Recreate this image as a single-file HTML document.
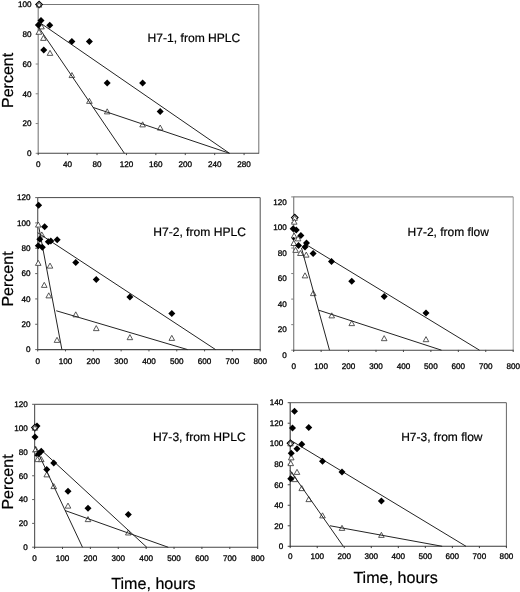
<!DOCTYPE html>
<html><head><meta charset="utf-8"><title>Figure</title>
<style>
html,body{margin:0;padding:0;background:#fff;}
body{width:520px;height:592px;overflow:hidden;font-family:"Liberation Sans",sans-serif;}
svg{display:block;will-change:transform;}
svg text{font-family:"Liberation Sans",sans-serif;text-rendering:geometricPrecision;}
</style></head>
<body>
<svg width="520" height="592" viewBox="0 0 520 592">
<rect width="520" height="592" fill="#fff"/>
<line x1="38.20" y1="4.50" x2="258.80" y2="4.50" stroke="#777" stroke-width="1.0"/>
<line x1="258.80" y1="4.50" x2="258.80" y2="153.30" stroke="#707070" stroke-width="1.0"/>
<line x1="38.20" y1="4.20" x2="38.20" y2="153.80" stroke="#858585" stroke-width="1.2"/>
<line x1="37.70" y1="153.30" x2="259.10" y2="153.30" stroke="#454545" stroke-width="1.1"/>
<line x1="35.70" y1="153.30" x2="38.20" y2="153.30" stroke="#858585" stroke-width="1.0"/>
<text x="31.50" y="156.05" font-size="8.15" text-anchor="end" fill="#000" stroke="#000" stroke-width="0.3" >0</text>
<line x1="35.70" y1="123.54" x2="38.20" y2="123.54" stroke="#858585" stroke-width="1.0"/>
<text x="31.50" y="126.29" font-size="8.15" text-anchor="end" fill="#000" stroke="#000" stroke-width="0.3" >20</text>
<line x1="35.70" y1="93.78" x2="38.20" y2="93.78" stroke="#858585" stroke-width="1.0"/>
<text x="31.50" y="96.53" font-size="8.15" text-anchor="end" fill="#000" stroke="#000" stroke-width="0.3" >40</text>
<line x1="35.70" y1="64.02" x2="38.20" y2="64.02" stroke="#858585" stroke-width="1.0"/>
<text x="31.50" y="66.77" font-size="8.15" text-anchor="end" fill="#000" stroke="#000" stroke-width="0.3" >60</text>
<line x1="35.70" y1="34.26" x2="38.20" y2="34.26" stroke="#858585" stroke-width="1.0"/>
<text x="31.50" y="37.01" font-size="8.15" text-anchor="end" fill="#000" stroke="#000" stroke-width="0.3" >80</text>
<line x1="35.70" y1="4.50" x2="38.20" y2="4.50" stroke="#858585" stroke-width="1.0"/>
<text x="31.50" y="7.25" font-size="8.15" text-anchor="end" fill="#000" stroke="#000" stroke-width="0.3" >100</text>
<line x1="38.20" y1="153.00" x2="38.20" y2="155.10" stroke="#454545" stroke-width="1.0"/>
<text x="38.20" y="167.05" font-size="8.15" text-anchor="middle" fill="#000" stroke="#000" stroke-width="0.3" >0</text>
<line x1="67.61" y1="153.00" x2="67.61" y2="155.10" stroke="#454545" stroke-width="1.0"/>
<text x="67.61" y="167.05" font-size="8.15" text-anchor="middle" fill="#000" stroke="#000" stroke-width="0.3" >40</text>
<line x1="97.03" y1="153.00" x2="97.03" y2="155.10" stroke="#454545" stroke-width="1.0"/>
<text x="97.03" y="167.05" font-size="8.15" text-anchor="middle" fill="#000" stroke="#000" stroke-width="0.3" >80</text>
<line x1="126.44" y1="153.00" x2="126.44" y2="155.10" stroke="#454545" stroke-width="1.0"/>
<text x="126.44" y="167.05" font-size="8.15" text-anchor="middle" fill="#000" stroke="#000" stroke-width="0.3" >120</text>
<line x1="155.85" y1="153.00" x2="155.85" y2="155.10" stroke="#454545" stroke-width="1.0"/>
<text x="155.85" y="167.05" font-size="8.15" text-anchor="middle" fill="#000" stroke="#000" stroke-width="0.3" >160</text>
<line x1="185.27" y1="153.00" x2="185.27" y2="155.10" stroke="#454545" stroke-width="1.0"/>
<text x="185.27" y="167.05" font-size="8.15" text-anchor="middle" fill="#000" stroke="#000" stroke-width="0.3" >200</text>
<line x1="214.68" y1="153.00" x2="214.68" y2="155.10" stroke="#454545" stroke-width="1.0"/>
<text x="214.68" y="167.05" font-size="8.15" text-anchor="middle" fill="#000" stroke="#000" stroke-width="0.3" >240</text>
<line x1="244.09" y1="153.00" x2="244.09" y2="155.10" stroke="#454545" stroke-width="1.0"/>
<text x="244.09" y="167.05" font-size="8.15" text-anchor="middle" fill="#000" stroke="#000" stroke-width="0.3" >280</text>
<path d="M38.70 28.88L41.50 23.84L44.30 28.88Z" fill="#fff" stroke="#3a3a3a" stroke-width="0.85"/>
<path d="M36.20 34.28L39.00 29.24L41.80 34.28Z" fill="#fff" stroke="#3a3a3a" stroke-width="0.85"/>
<path d="M40.60 40.38L43.40 35.34L46.20 40.38Z" fill="#fff" stroke="#3a3a3a" stroke-width="0.85"/>
<path d="M47.20 55.38L50.00 50.34L52.80 55.38Z" fill="#fff" stroke="#3a3a3a" stroke-width="0.85"/>
<path d="M69.10 77.58L71.90 72.54L74.70 77.58Z" fill="#fff" stroke="#3a3a3a" stroke-width="0.85"/>
<path d="M86.60 103.38L89.40 98.34L92.20 103.38Z" fill="#fff" stroke="#3a3a3a" stroke-width="0.85"/>
<path d="M104.40 113.88L107.20 108.84L110.00 113.88Z" fill="#fff" stroke="#3a3a3a" stroke-width="0.85"/>
<path d="M139.80 126.88L142.60 121.84L145.40 126.88Z" fill="#fff" stroke="#3a3a3a" stroke-width="0.85"/>
<path d="M157.40 130.08L160.20 125.04L163.00 130.08Z" fill="#fff" stroke="#3a3a3a" stroke-width="0.85"/>
<path d="M35.80 4.50L39.10 1.20L42.40 4.50L39.10 7.80Z" fill="#fff" stroke="#000" stroke-width="1.1"/>
<path d="M36.40 7.09L39.10 2.23L41.80 7.09Z" fill="none" stroke="#3a3a3a" stroke-width="0.85"/>
<line x1="38.60" y1="21.80" x2="229.50" y2="153.30" stroke="#242424" stroke-width="1.0"/>
<line x1="38.60" y1="27.20" x2="124.40" y2="153.30" stroke="#242424" stroke-width="1.0"/>
<line x1="93.00" y1="107.40" x2="229.50" y2="153.30" stroke="#242424" stroke-width="1.0"/>
<path d="M37.50 20.60L41.00 17.10L44.50 20.60L41.00 24.10Z" fill="#000" />
<path d="M34.90 25.00L38.40 21.50L41.90 25.00L38.40 28.50Z" fill="#000" />
<path d="M46.25 25.25L49.75 21.75L53.25 25.25L49.75 28.75Z" fill="#000" />
<path d="M40.25 50.00L43.75 46.50L47.25 50.00L43.75 53.50Z" fill="#000" />
<path d="M68.40 41.60L71.90 38.10L75.40 41.60L71.90 45.10Z" fill="#000" />
<path d="M85.90 41.60L89.40 38.10L92.90 41.60L89.40 45.10Z" fill="#000" />
<path d="M103.70 83.00L107.20 79.50L110.70 83.00L107.20 86.50Z" fill="#000" />
<path d="M139.10 83.00L142.60 79.50L146.10 83.00L142.60 86.50Z" fill="#000" />
<path d="M156.70 111.50L160.20 108.00L163.70 111.50L160.20 115.00Z" fill="#000" />
<text x="147.60" y="42.40" font-size="12.1" text-anchor="start" fill="#000" stroke="#000" stroke-width="0.2" >H7-1, from HPLC</text>
<text x="0.00" y="0.00" font-size="16" text-anchor="middle" fill="#000" stroke="#000" stroke-width="0.2" transform="translate(13.2,80.4) rotate(-90)">Percent</text>
<line x1="37.70" y1="197.60" x2="260.20" y2="197.60" stroke="#484848" stroke-width="1.0"/>
<line x1="260.20" y1="197.60" x2="260.20" y2="349.60" stroke="#505050" stroke-width="1.0"/>
<line x1="37.70" y1="197.30" x2="37.70" y2="350.10" stroke="#606060" stroke-width="1.2"/>
<line x1="37.20" y1="349.60" x2="260.50" y2="349.60" stroke="#4a4a4a" stroke-width="1.1"/>
<line x1="35.20" y1="349.60" x2="37.70" y2="349.60" stroke="#606060" stroke-width="1.0"/>
<text x="30.60" y="352.35" font-size="8.15" text-anchor="end" fill="#000" stroke="#000" stroke-width="0.3" >0</text>
<line x1="35.20" y1="324.27" x2="37.70" y2="324.27" stroke="#606060" stroke-width="1.0"/>
<text x="30.60" y="327.02" font-size="8.15" text-anchor="end" fill="#000" stroke="#000" stroke-width="0.3" >20</text>
<line x1="35.20" y1="298.93" x2="37.70" y2="298.93" stroke="#606060" stroke-width="1.0"/>
<text x="30.60" y="301.68" font-size="8.15" text-anchor="end" fill="#000" stroke="#000" stroke-width="0.3" >40</text>
<line x1="35.20" y1="273.60" x2="37.70" y2="273.60" stroke="#606060" stroke-width="1.0"/>
<text x="30.60" y="276.35" font-size="8.15" text-anchor="end" fill="#000" stroke="#000" stroke-width="0.3" >60</text>
<line x1="35.20" y1="248.27" x2="37.70" y2="248.27" stroke="#606060" stroke-width="1.0"/>
<text x="30.60" y="251.02" font-size="8.15" text-anchor="end" fill="#000" stroke="#000" stroke-width="0.3" >80</text>
<line x1="35.20" y1="222.93" x2="37.70" y2="222.93" stroke="#606060" stroke-width="1.0"/>
<text x="30.60" y="225.68" font-size="8.15" text-anchor="end" fill="#000" stroke="#000" stroke-width="0.3" >100</text>
<line x1="35.20" y1="197.60" x2="37.70" y2="197.60" stroke="#606060" stroke-width="1.0"/>
<text x="30.60" y="200.35" font-size="8.15" text-anchor="end" fill="#000" stroke="#000" stroke-width="0.3" >120</text>
<line x1="37.70" y1="349.30" x2="37.70" y2="351.40" stroke="#4a4a4a" stroke-width="1.0"/>
<text x="37.70" y="363.65" font-size="8.15" text-anchor="middle" fill="#000" stroke="#000" stroke-width="0.3" >0</text>
<line x1="65.51" y1="349.30" x2="65.51" y2="351.40" stroke="#4a4a4a" stroke-width="1.0"/>
<text x="65.51" y="363.65" font-size="8.15" text-anchor="middle" fill="#000" stroke="#000" stroke-width="0.3" >100</text>
<line x1="93.33" y1="349.30" x2="93.33" y2="351.40" stroke="#4a4a4a" stroke-width="1.0"/>
<text x="93.33" y="363.65" font-size="8.15" text-anchor="middle" fill="#000" stroke="#000" stroke-width="0.3" >200</text>
<line x1="121.14" y1="349.30" x2="121.14" y2="351.40" stroke="#4a4a4a" stroke-width="1.0"/>
<text x="121.14" y="363.65" font-size="8.15" text-anchor="middle" fill="#000" stroke="#000" stroke-width="0.3" >300</text>
<line x1="148.95" y1="349.30" x2="148.95" y2="351.40" stroke="#4a4a4a" stroke-width="1.0"/>
<text x="148.95" y="363.65" font-size="8.15" text-anchor="middle" fill="#000" stroke="#000" stroke-width="0.3" >400</text>
<line x1="176.76" y1="349.30" x2="176.76" y2="351.40" stroke="#4a4a4a" stroke-width="1.0"/>
<text x="176.76" y="363.65" font-size="8.15" text-anchor="middle" fill="#000" stroke="#000" stroke-width="0.3" >500</text>
<line x1="204.57" y1="349.30" x2="204.57" y2="351.40" stroke="#4a4a4a" stroke-width="1.0"/>
<text x="204.57" y="363.65" font-size="8.15" text-anchor="middle" fill="#000" stroke="#000" stroke-width="0.3" >600</text>
<line x1="232.39" y1="349.30" x2="232.39" y2="351.40" stroke="#4a4a4a" stroke-width="1.0"/>
<text x="232.39" y="363.65" font-size="8.15" text-anchor="middle" fill="#000" stroke="#000" stroke-width="0.3" >700</text>
<line x1="260.20" y1="349.30" x2="260.20" y2="351.40" stroke="#4a4a4a" stroke-width="1.0"/>
<text x="260.20" y="363.65" font-size="8.15" text-anchor="middle" fill="#000" stroke="#000" stroke-width="0.3" >800</text>
<path d="M35.50 227.08L38.30 222.04L41.10 227.08Z" fill="#fff" stroke="#3a3a3a" stroke-width="0.85"/>
<path d="M39.00 236.98L41.80 231.94L44.60 236.98Z" fill="#fff" stroke="#3a3a3a" stroke-width="0.85"/>
<path d="M35.45 265.38L38.25 260.34L41.05 265.38Z" fill="#fff" stroke="#3a3a3a" stroke-width="0.85"/>
<path d="M47.20 268.13L50.00 263.09L52.80 268.13Z" fill="#fff" stroke="#3a3a3a" stroke-width="0.85"/>
<path d="M41.45 287.38L44.25 282.34L47.05 287.38Z" fill="#fff" stroke="#3a3a3a" stroke-width="0.85"/>
<path d="M45.95 297.88L48.75 292.84L51.55 297.88Z" fill="#fff" stroke="#3a3a3a" stroke-width="0.85"/>
<path d="M54.20 342.38L57.00 337.34L59.80 342.38Z" fill="#fff" stroke="#3a3a3a" stroke-width="0.85"/>
<path d="M72.95 316.88L75.75 311.84L78.55 316.88Z" fill="#fff" stroke="#3a3a3a" stroke-width="0.85"/>
<path d="M93.45 330.63L96.25 325.59L99.05 330.63Z" fill="#fff" stroke="#3a3a3a" stroke-width="0.85"/>
<path d="M127.10 339.68L129.90 334.64L132.70 339.68Z" fill="#fff" stroke="#3a3a3a" stroke-width="0.85"/>
<path d="M169.00 340.38L171.80 335.34L174.60 340.38Z" fill="#fff" stroke="#3a3a3a" stroke-width="0.85"/>
<line x1="37.70" y1="232.70" x2="215.60" y2="349.60" stroke="#242424" stroke-width="1.0"/>
<line x1="39.00" y1="228.00" x2="61.90" y2="349.60" stroke="#242424" stroke-width="1.0"/>
<line x1="56.25" y1="310.75" x2="187.60" y2="349.60" stroke="#242424" stroke-width="1.0"/>
<path d="M35.10 205.20L38.60 201.70L42.10 205.20L38.60 208.70Z" fill="#000" />
<path d="M41.10 226.80L44.60 223.30L48.10 226.80L44.60 230.30Z" fill="#000" />
<path d="M36.30 239.20L39.80 235.70L43.30 239.20L39.80 242.70Z" fill="#000" />
<path d="M34.80 245.80L38.30 242.30L41.80 245.80L38.30 249.30Z" fill="#000" />
<path d="M38.80 247.30L42.30 243.80L45.80 247.30L42.30 250.80Z" fill="#000" />
<path d="M44.80 241.70L48.30 238.20L51.80 241.70L48.30 245.20Z" fill="#000" />
<path d="M47.30 240.90L50.80 237.40L54.30 240.90L50.80 244.40Z" fill="#000" />
<path d="M53.70 239.70L57.20 236.20L60.70 239.70L57.20 243.20Z" fill="#000" />
<path d="M72.25 262.50L75.75 259.00L79.25 262.50L75.75 266.00Z" fill="#000" />
<path d="M92.75 279.50L96.25 276.00L99.75 279.50L96.25 283.00Z" fill="#000" />
<path d="M126.40 297.10L129.90 293.60L133.40 297.10L129.90 300.60Z" fill="#000" />
<path d="M168.30 313.60L171.80 310.10L175.30 313.60L171.80 317.10Z" fill="#000" />
<text x="153.20" y="235.50" font-size="12.1" text-anchor="start" fill="#000" stroke="#000" stroke-width="0.2" >H7-2, from HPLC</text>
<text x="0.00" y="0.00" font-size="16" text-anchor="middle" fill="#000" stroke="#000" stroke-width="0.2" transform="translate(13.2,279) rotate(-90)">Percent</text>
<line x1="293.70" y1="196.90" x2="513.20" y2="196.90" stroke="#6a6a6a" stroke-width="1.0"/>
<line x1="513.20" y1="196.90" x2="513.20" y2="350.20" stroke="#959595" stroke-width="1.0"/>
<line x1="293.70" y1="196.60" x2="293.70" y2="350.70" stroke="#808080" stroke-width="1.2"/>
<line x1="293.20" y1="350.20" x2="513.50" y2="350.20" stroke="#454545" stroke-width="1.1"/>
<line x1="291.20" y1="350.20" x2="293.70" y2="350.20" stroke="#808080" stroke-width="1.0"/>
<text x="286.80" y="357.95" font-size="8.15" text-anchor="end" fill="#000" stroke="#000" stroke-width="0.3" >0</text>
<line x1="291.20" y1="324.65" x2="293.70" y2="324.65" stroke="#808080" stroke-width="1.0"/>
<text x="286.80" y="332.40" font-size="8.15" text-anchor="end" fill="#000" stroke="#000" stroke-width="0.3" >20</text>
<line x1="291.20" y1="299.10" x2="293.70" y2="299.10" stroke="#808080" stroke-width="1.0"/>
<text x="286.80" y="306.85" font-size="8.15" text-anchor="end" fill="#000" stroke="#000" stroke-width="0.3" >40</text>
<line x1="291.20" y1="273.55" x2="293.70" y2="273.55" stroke="#808080" stroke-width="1.0"/>
<text x="286.80" y="281.30" font-size="8.15" text-anchor="end" fill="#000" stroke="#000" stroke-width="0.3" >60</text>
<line x1="291.20" y1="248.00" x2="293.70" y2="248.00" stroke="#808080" stroke-width="1.0"/>
<text x="286.80" y="255.75" font-size="8.15" text-anchor="end" fill="#000" stroke="#000" stroke-width="0.3" >80</text>
<line x1="291.20" y1="222.45" x2="293.70" y2="222.45" stroke="#808080" stroke-width="1.0"/>
<text x="286.80" y="230.20" font-size="8.15" text-anchor="end" fill="#000" stroke="#000" stroke-width="0.3" >100</text>
<line x1="291.20" y1="196.90" x2="293.70" y2="196.90" stroke="#808080" stroke-width="1.0"/>
<text x="286.80" y="204.65" font-size="8.15" text-anchor="end" fill="#000" stroke="#000" stroke-width="0.3" >120</text>
<line x1="293.70" y1="349.90" x2="293.70" y2="352.00" stroke="#454545" stroke-width="1.0"/>
<text x="293.70" y="368.85" font-size="8.15" text-anchor="middle" fill="#000" stroke="#000" stroke-width="0.3" >0</text>
<line x1="321.14" y1="349.90" x2="321.14" y2="352.00" stroke="#454545" stroke-width="1.0"/>
<text x="321.14" y="368.85" font-size="8.15" text-anchor="middle" fill="#000" stroke="#000" stroke-width="0.3" >100</text>
<line x1="348.57" y1="349.90" x2="348.57" y2="352.00" stroke="#454545" stroke-width="1.0"/>
<text x="348.57" y="368.85" font-size="8.15" text-anchor="middle" fill="#000" stroke="#000" stroke-width="0.3" >200</text>
<line x1="376.01" y1="349.90" x2="376.01" y2="352.00" stroke="#454545" stroke-width="1.0"/>
<text x="376.01" y="368.85" font-size="8.15" text-anchor="middle" fill="#000" stroke="#000" stroke-width="0.3" >300</text>
<line x1="403.45" y1="349.90" x2="403.45" y2="352.00" stroke="#454545" stroke-width="1.0"/>
<text x="403.45" y="368.85" font-size="8.15" text-anchor="middle" fill="#000" stroke="#000" stroke-width="0.3" >400</text>
<line x1="430.89" y1="349.90" x2="430.89" y2="352.00" stroke="#454545" stroke-width="1.0"/>
<text x="430.89" y="368.85" font-size="8.15" text-anchor="middle" fill="#000" stroke="#000" stroke-width="0.3" >500</text>
<line x1="458.33" y1="349.90" x2="458.33" y2="352.00" stroke="#454545" stroke-width="1.0"/>
<text x="458.33" y="368.85" font-size="8.15" text-anchor="middle" fill="#000" stroke="#000" stroke-width="0.3" >600</text>
<line x1="485.76" y1="349.90" x2="485.76" y2="352.00" stroke="#454545" stroke-width="1.0"/>
<text x="485.76" y="368.85" font-size="8.15" text-anchor="middle" fill="#000" stroke="#000" stroke-width="0.3" >700</text>
<line x1="513.20" y1="349.90" x2="513.20" y2="352.00" stroke="#454545" stroke-width="1.0"/>
<text x="513.20" y="368.85" font-size="8.15" text-anchor="middle" fill="#000" stroke="#000" stroke-width="0.3" >800</text>
<path d="M291.45 217.60L294.75 214.30L298.05 217.60L294.75 220.90Z" fill="#fff" stroke="#000" stroke-width="1.1"/>
<path d="M292.05 220.29L294.75 215.44L297.45 220.29Z" fill="#fff" stroke="#3a3a3a" stroke-width="0.85"/>
<path d="M291.45 224.18L294.25 219.14L297.05 224.18Z" fill="#fff" stroke="#3a3a3a" stroke-width="0.85"/>
<path d="M291.30 237.98L294.10 232.94L296.90 237.98Z" fill="#fff" stroke="#3a3a3a" stroke-width="0.85"/>
<path d="M295.30 240.88L298.10 235.84L300.90 240.88Z" fill="#fff" stroke="#3a3a3a" stroke-width="0.85"/>
<path d="M290.95 245.48L293.75 240.44L296.55 245.48Z" fill="#fff" stroke="#3a3a3a" stroke-width="0.85"/>
<path d="M292.80 252.38L295.60 247.34L298.40 252.38Z" fill="#fff" stroke="#3a3a3a" stroke-width="0.85"/>
<path d="M297.60 255.48L300.40 250.44L303.20 255.48Z" fill="#fff" stroke="#3a3a3a" stroke-width="0.85"/>
<path d="M303.45 257.13L306.25 252.09L309.05 257.13Z" fill="#fff" stroke="#3a3a3a" stroke-width="0.85"/>
<path d="M302.20 277.88L305.00 272.84L307.80 277.88Z" fill="#fff" stroke="#3a3a3a" stroke-width="0.85"/>
<path d="M310.45 295.63L313.25 290.59L316.05 295.63Z" fill="#fff" stroke="#3a3a3a" stroke-width="0.85"/>
<path d="M328.95 317.88L331.75 312.84L334.55 317.88Z" fill="#fff" stroke="#3a3a3a" stroke-width="0.85"/>
<path d="M348.95 325.63L351.75 320.59L354.55 325.63Z" fill="#fff" stroke="#3a3a3a" stroke-width="0.85"/>
<path d="M381.40 340.68L384.20 335.64L387.00 340.68Z" fill="#fff" stroke="#3a3a3a" stroke-width="0.85"/>
<path d="M423.20 341.68L426.00 336.64L428.80 341.68Z" fill="#fff" stroke="#3a3a3a" stroke-width="0.85"/>
<line x1="305.50" y1="244.20" x2="479.50" y2="350.20" stroke="#242424" stroke-width="1.0"/>
<line x1="301.50" y1="248.00" x2="329.50" y2="350.20" stroke="#242424" stroke-width="1.0"/>
<line x1="318.75" y1="310.20" x2="441.50" y2="350.20" stroke="#242424" stroke-width="1.0"/>
<path d="M289.60 228.75L293.10 225.25L296.60 228.75L293.10 232.25Z" fill="#000" />
<path d="M292.75 230.00L296.25 226.50L299.75 230.00L296.25 233.50Z" fill="#000" />
<path d="M297.40 235.60L300.90 232.10L304.40 235.60L300.90 239.10Z" fill="#000" />
<path d="M303.00 243.10L306.50 239.60L310.00 243.10L306.50 246.60Z" fill="#000" />
<path d="M295.00 245.60L298.50 242.10L302.00 245.60L298.50 249.10Z" fill="#000" />
<path d="M301.50 246.90L305.00 243.40L308.50 246.90L305.00 250.40Z" fill="#000" />
<path d="M309.60 253.50L313.10 250.00L316.60 253.50L313.10 257.00Z" fill="#000" />
<path d="M328.00 261.60L331.50 258.10L335.00 261.60L331.50 265.10Z" fill="#000" />
<path d="M348.25 281.25L351.75 277.75L355.25 281.25L351.75 284.75Z" fill="#000" />
<path d="M380.70 296.40L384.20 292.90L387.70 296.40L384.20 299.90Z" fill="#000" />
<path d="M422.50 313.00L426.00 309.50L429.50 313.00L426.00 316.50Z" fill="#000" />
<path d="M291.70 238.75L293.50 236.95L295.30 238.75L293.50 240.55Z" fill="#000" />
<text x="407.60" y="235.50" font-size="12" text-anchor="start" fill="#000" stroke="#000" stroke-width="0.2" >H7-2, from flow</text>
<line x1="34.60" y1="404.30" x2="257.70" y2="404.30" stroke="#484848" stroke-width="1.0"/>
<line x1="257.70" y1="404.30" x2="257.70" y2="547.20" stroke="#484848" stroke-width="1.0"/>
<line x1="34.60" y1="404.00" x2="34.60" y2="547.70" stroke="#606060" stroke-width="1.2"/>
<line x1="34.10" y1="547.20" x2="258.00" y2="547.20" stroke="#454545" stroke-width="1.1"/>
<line x1="32.10" y1="547.20" x2="34.60" y2="547.20" stroke="#606060" stroke-width="1.0"/>
<text x="27.80" y="549.95" font-size="8.15" text-anchor="end" fill="#000" stroke="#000" stroke-width="0.3" >0</text>
<line x1="32.10" y1="523.38" x2="34.60" y2="523.38" stroke="#606060" stroke-width="1.0"/>
<text x="27.80" y="526.13" font-size="8.15" text-anchor="end" fill="#000" stroke="#000" stroke-width="0.3" >20</text>
<line x1="32.10" y1="499.57" x2="34.60" y2="499.57" stroke="#606060" stroke-width="1.0"/>
<text x="27.80" y="502.32" font-size="8.15" text-anchor="end" fill="#000" stroke="#000" stroke-width="0.3" >40</text>
<line x1="32.10" y1="475.75" x2="34.60" y2="475.75" stroke="#606060" stroke-width="1.0"/>
<text x="27.80" y="478.50" font-size="8.15" text-anchor="end" fill="#000" stroke="#000" stroke-width="0.3" >60</text>
<line x1="32.10" y1="451.93" x2="34.60" y2="451.93" stroke="#606060" stroke-width="1.0"/>
<text x="27.80" y="454.68" font-size="8.15" text-anchor="end" fill="#000" stroke="#000" stroke-width="0.3" >80</text>
<line x1="32.10" y1="428.12" x2="34.60" y2="428.12" stroke="#606060" stroke-width="1.0"/>
<text x="27.80" y="430.87" font-size="8.15" text-anchor="end" fill="#000" stroke="#000" stroke-width="0.3" >100</text>
<line x1="32.10" y1="404.30" x2="34.60" y2="404.30" stroke="#606060" stroke-width="1.0"/>
<text x="27.80" y="407.05" font-size="8.15" text-anchor="end" fill="#000" stroke="#000" stroke-width="0.3" >120</text>
<line x1="34.60" y1="546.90" x2="34.60" y2="549.00" stroke="#454545" stroke-width="1.0"/>
<text x="34.60" y="560.95" font-size="8.15" text-anchor="middle" fill="#000" stroke="#000" stroke-width="0.3" >0</text>
<line x1="62.49" y1="546.90" x2="62.49" y2="549.00" stroke="#454545" stroke-width="1.0"/>
<text x="62.49" y="560.95" font-size="8.15" text-anchor="middle" fill="#000" stroke="#000" stroke-width="0.3" >100</text>
<line x1="90.38" y1="546.90" x2="90.38" y2="549.00" stroke="#454545" stroke-width="1.0"/>
<text x="90.38" y="560.95" font-size="8.15" text-anchor="middle" fill="#000" stroke="#000" stroke-width="0.3" >200</text>
<line x1="118.26" y1="546.90" x2="118.26" y2="549.00" stroke="#454545" stroke-width="1.0"/>
<text x="118.26" y="560.95" font-size="8.15" text-anchor="middle" fill="#000" stroke="#000" stroke-width="0.3" >300</text>
<line x1="146.15" y1="546.90" x2="146.15" y2="549.00" stroke="#454545" stroke-width="1.0"/>
<text x="146.15" y="560.95" font-size="8.15" text-anchor="middle" fill="#000" stroke="#000" stroke-width="0.3" >400</text>
<line x1="174.04" y1="546.90" x2="174.04" y2="549.00" stroke="#454545" stroke-width="1.0"/>
<text x="174.04" y="560.95" font-size="8.15" text-anchor="middle" fill="#000" stroke="#000" stroke-width="0.3" >500</text>
<line x1="201.92" y1="546.90" x2="201.92" y2="549.00" stroke="#454545" stroke-width="1.0"/>
<text x="201.92" y="560.95" font-size="8.15" text-anchor="middle" fill="#000" stroke="#000" stroke-width="0.3" >600</text>
<line x1="229.81" y1="546.90" x2="229.81" y2="549.00" stroke="#454545" stroke-width="1.0"/>
<text x="229.81" y="560.95" font-size="8.15" text-anchor="middle" fill="#000" stroke="#000" stroke-width="0.3" >700</text>
<line x1="257.70" y1="546.90" x2="257.70" y2="549.00" stroke="#454545" stroke-width="1.0"/>
<text x="257.70" y="560.95" font-size="8.15" text-anchor="middle" fill="#000" stroke="#000" stroke-width="0.3" >800</text>
<path d="M32.95 451.63L35.75 446.59L38.55 451.63Z" fill="#fff" stroke="#3a3a3a" stroke-width="0.85"/>
<path d="M34.70 461.63L37.50 456.59L40.30 461.63Z" fill="#fff" stroke="#3a3a3a" stroke-width="0.85"/>
<path d="M38.45 461.63L41.25 456.59L44.05 461.63Z" fill="#fff" stroke="#3a3a3a" stroke-width="0.85"/>
<path d="M43.95 476.88L46.75 471.84L49.55 476.88Z" fill="#fff" stroke="#3a3a3a" stroke-width="0.85"/>
<path d="M50.95 488.63L53.75 483.59L56.55 488.63Z" fill="#fff" stroke="#3a3a3a" stroke-width="0.85"/>
<path d="M65.20 508.13L68.00 503.09L70.80 508.13Z" fill="#fff" stroke="#3a3a3a" stroke-width="0.85"/>
<path d="M85.20 521.63L88.00 516.59L90.80 521.63Z" fill="#fff" stroke="#3a3a3a" stroke-width="0.85"/>
<path d="M125.50 534.98L128.30 529.94L131.10 534.98Z" fill="#fff" stroke="#3a3a3a" stroke-width="0.85"/>
<line x1="41.25" y1="450.00" x2="146.80" y2="547.30" stroke="#242424" stroke-width="1.0"/>
<line x1="35.00" y1="446.25" x2="82.50" y2="547.30" stroke="#242424" stroke-width="1.0"/>
<line x1="65.00" y1="510.50" x2="168.30" y2="547.30" stroke="#242424" stroke-width="1.0"/>
<path d="M33.50 426.00L37.00 422.50L40.50 426.00L37.00 429.50Z" fill="#000" />
<path d="M31.50 437.00L35.00 433.50L38.50 437.00L35.00 440.50Z" fill="#000" />
<path d="M37.75 451.25L41.25 447.75L44.75 451.25L41.25 454.75Z" fill="#000" />
<path d="M35.25 453.75L38.75 450.25L42.25 453.75L38.75 457.25Z" fill="#000" />
<path d="M50.25 463.00L53.75 459.50L57.25 463.00L53.75 466.50Z" fill="#000" />
<path d="M43.25 469.50L46.75 466.00L50.25 469.50L46.75 473.00Z" fill="#000" />
<path d="M64.50 491.25L68.00 487.75L71.50 491.25L68.00 494.75Z" fill="#000" />
<path d="M84.50 508.25L88.00 504.75L91.50 508.25L88.00 511.75Z" fill="#000" />
<path d="M124.80 514.60L128.30 511.10L131.80 514.60L128.30 518.10Z" fill="#000" />
<path d="M34.40 455.30L36.20 453.50L38.00 455.30L36.20 457.10Z" fill="#000" />
<path d="M31.60 427.60L34.90 424.30L38.20 427.60L34.90 430.90Z" fill="#fff" stroke="#000" stroke-width="1.1"/>
<path d="M32.20 430.20L34.90 425.34L37.60 430.20Z" fill="none" stroke="#3a3a3a" stroke-width="0.85"/>
<text x="152.90" y="440.50" font-size="12.1" text-anchor="start" fill="#000" stroke="#000" stroke-width="0.2" >H7-3, from HPLC</text>
<text x="0.00" y="0.00" font-size="16" text-anchor="middle" fill="#000" stroke="#000" stroke-width="0.2" transform="translate(13.2,482) rotate(-90)">Percent</text>
<text x="111.30" y="589.00" font-size="16.1" text-anchor="start" fill="#000" stroke="#000" stroke-width="0.2" >Time, hours</text>
<line x1="290.20" y1="402.70" x2="506.40" y2="402.70" stroke="#555" stroke-width="1.0"/>
<line x1="506.40" y1="402.70" x2="506.40" y2="546.30" stroke="#666" stroke-width="1.0"/>
<line x1="290.20" y1="402.40" x2="290.20" y2="546.80" stroke="#454545" stroke-width="1.2"/>
<line x1="289.70" y1="546.30" x2="506.70" y2="546.30" stroke="#383838" stroke-width="1.1"/>
<line x1="287.70" y1="546.30" x2="290.20" y2="546.30" stroke="#454545" stroke-width="1.0"/>
<text x="283.40" y="549.05" font-size="8.15" text-anchor="end" fill="#000" stroke="#000" stroke-width="0.3" >0</text>
<line x1="287.70" y1="525.79" x2="290.20" y2="525.79" stroke="#454545" stroke-width="1.0"/>
<text x="283.40" y="528.54" font-size="8.15" text-anchor="end" fill="#000" stroke="#000" stroke-width="0.3" >20</text>
<line x1="287.70" y1="505.27" x2="290.20" y2="505.27" stroke="#454545" stroke-width="1.0"/>
<text x="283.40" y="508.02" font-size="8.15" text-anchor="end" fill="#000" stroke="#000" stroke-width="0.3" >40</text>
<line x1="287.70" y1="484.76" x2="290.20" y2="484.76" stroke="#454545" stroke-width="1.0"/>
<text x="283.40" y="487.51" font-size="8.15" text-anchor="end" fill="#000" stroke="#000" stroke-width="0.3" >60</text>
<line x1="287.70" y1="464.24" x2="290.20" y2="464.24" stroke="#454545" stroke-width="1.0"/>
<text x="283.40" y="466.99" font-size="8.15" text-anchor="end" fill="#000" stroke="#000" stroke-width="0.3" >80</text>
<line x1="287.70" y1="443.73" x2="290.20" y2="443.73" stroke="#454545" stroke-width="1.0"/>
<text x="283.40" y="446.48" font-size="8.15" text-anchor="end" fill="#000" stroke="#000" stroke-width="0.3" >100</text>
<line x1="287.70" y1="423.21" x2="290.20" y2="423.21" stroke="#454545" stroke-width="1.0"/>
<text x="283.40" y="425.96" font-size="8.15" text-anchor="end" fill="#000" stroke="#000" stroke-width="0.3" >120</text>
<line x1="287.70" y1="402.70" x2="290.20" y2="402.70" stroke="#454545" stroke-width="1.0"/>
<text x="283.40" y="405.45" font-size="8.15" text-anchor="end" fill="#000" stroke="#000" stroke-width="0.3" >140</text>
<line x1="290.20" y1="546.00" x2="290.20" y2="548.10" stroke="#383838" stroke-width="1.0"/>
<text x="290.20" y="559.45" font-size="8.15" text-anchor="middle" fill="#000" stroke="#000" stroke-width="0.3" >0</text>
<line x1="317.22" y1="546.00" x2="317.22" y2="548.10" stroke="#383838" stroke-width="1.0"/>
<text x="317.22" y="559.45" font-size="8.15" text-anchor="middle" fill="#000" stroke="#000" stroke-width="0.3" >100</text>
<line x1="344.25" y1="546.00" x2="344.25" y2="548.10" stroke="#383838" stroke-width="1.0"/>
<text x="344.25" y="559.45" font-size="8.15" text-anchor="middle" fill="#000" stroke="#000" stroke-width="0.3" >200</text>
<line x1="371.27" y1="546.00" x2="371.27" y2="548.10" stroke="#383838" stroke-width="1.0"/>
<text x="371.27" y="559.45" font-size="8.15" text-anchor="middle" fill="#000" stroke="#000" stroke-width="0.3" >300</text>
<line x1="398.30" y1="546.00" x2="398.30" y2="548.10" stroke="#383838" stroke-width="1.0"/>
<text x="398.30" y="559.45" font-size="8.15" text-anchor="middle" fill="#000" stroke="#000" stroke-width="0.3" >400</text>
<line x1="425.32" y1="546.00" x2="425.32" y2="548.10" stroke="#383838" stroke-width="1.0"/>
<text x="425.32" y="559.45" font-size="8.15" text-anchor="middle" fill="#000" stroke="#000" stroke-width="0.3" >500</text>
<line x1="452.35" y1="546.00" x2="452.35" y2="548.10" stroke="#383838" stroke-width="1.0"/>
<text x="452.35" y="559.45" font-size="8.15" text-anchor="middle" fill="#000" stroke="#000" stroke-width="0.3" >600</text>
<line x1="479.38" y1="546.00" x2="479.38" y2="548.10" stroke="#383838" stroke-width="1.0"/>
<text x="479.38" y="559.45" font-size="8.15" text-anchor="middle" fill="#000" stroke="#000" stroke-width="0.3" >700</text>
<line x1="506.40" y1="546.00" x2="506.40" y2="548.10" stroke="#383838" stroke-width="1.0"/>
<text x="506.40" y="559.45" font-size="8.15" text-anchor="middle" fill="#000" stroke="#000" stroke-width="0.3" >800</text>
<path d="M288.45 459.88L291.25 454.84L294.05 459.88Z" fill="#fff" stroke="#3a3a3a" stroke-width="0.85"/>
<path d="M287.95 465.63L290.75 460.59L293.55 465.63Z" fill="#fff" stroke="#3a3a3a" stroke-width="0.85"/>
<path d="M294.20 474.38L297.00 469.34L299.80 474.38Z" fill="#fff" stroke="#3a3a3a" stroke-width="0.85"/>
<path d="M289.20 477.38L292.00 472.34L294.80 477.38Z" fill="#fff" stroke="#3a3a3a" stroke-width="0.85"/>
<path d="M292.20 481.63L295.00 476.59L297.80 481.63Z" fill="#fff" stroke="#3a3a3a" stroke-width="0.85"/>
<path d="M298.95 490.63L301.75 485.59L304.55 490.63Z" fill="#fff" stroke="#3a3a3a" stroke-width="0.85"/>
<path d="M305.95 501.63L308.75 496.59L311.55 501.63Z" fill="#fff" stroke="#3a3a3a" stroke-width="0.85"/>
<path d="M319.70 517.88L322.50 512.84L325.30 517.88Z" fill="#fff" stroke="#3a3a3a" stroke-width="0.85"/>
<path d="M339.20 530.38L342.00 525.34L344.80 530.38Z" fill="#fff" stroke="#3a3a3a" stroke-width="0.85"/>
<path d="M378.60 537.38L381.40 532.34L384.20 537.38Z" fill="#fff" stroke="#3a3a3a" stroke-width="0.85"/>
<path d="M287.20 443.25L290.50 439.95L293.80 443.25L290.50 446.55Z" fill="#fff" stroke="#000" stroke-width="1.1"/>
<path d="M287.80 445.85L290.50 440.99L293.20 445.85Z" fill="none" stroke="#3a3a3a" stroke-width="0.85"/>
<line x1="290.20" y1="440.00" x2="466.00" y2="546.30" stroke="#242424" stroke-width="1.0"/>
<line x1="290.20" y1="470.50" x2="343.30" y2="546.30" stroke="#242424" stroke-width="1.0"/>
<line x1="330.00" y1="525.75" x2="442.20" y2="546.30" stroke="#242424" stroke-width="1.0"/>
<path d="M291.00 411.25L294.50 407.75L298.00 411.25L294.50 414.75Z" fill="#000" />
<path d="M289.00 428.00L292.50 424.50L296.00 428.00L292.50 431.50Z" fill="#000" />
<path d="M305.25 427.50L308.75 424.00L312.25 427.50L308.75 431.00Z" fill="#000" />
<path d="M298.25 444.25L301.75 440.75L305.25 444.25L301.75 447.75Z" fill="#000" />
<path d="M293.50 448.75L297.00 445.25L300.50 448.75L297.00 452.25Z" fill="#000" />
<path d="M287.75 453.25L291.25 449.75L294.75 453.25L291.25 456.75Z" fill="#000" />
<path d="M319.00 461.25L322.50 457.75L326.00 461.25L322.50 464.75Z" fill="#000" />
<path d="M338.50 472.00L342.00 468.50L345.50 472.00L342.00 475.50Z" fill="#000" />
<path d="M377.90 501.00L381.40 497.50L384.90 501.00L381.40 504.50Z" fill="#000" />
<path d="M287.25 478.75L290.75 475.25L294.25 478.75L290.75 482.25Z" fill="#000" />
<text x="401.20" y="440.50" font-size="12" text-anchor="start" fill="#000" stroke="#000" stroke-width="0.2" >H7-3, from flow</text>
<text x="353.40" y="582.90" font-size="16.1" text-anchor="start" fill="#000" stroke="#000" stroke-width="0.2" >Time, hours</text>
</svg>
</body></html>
